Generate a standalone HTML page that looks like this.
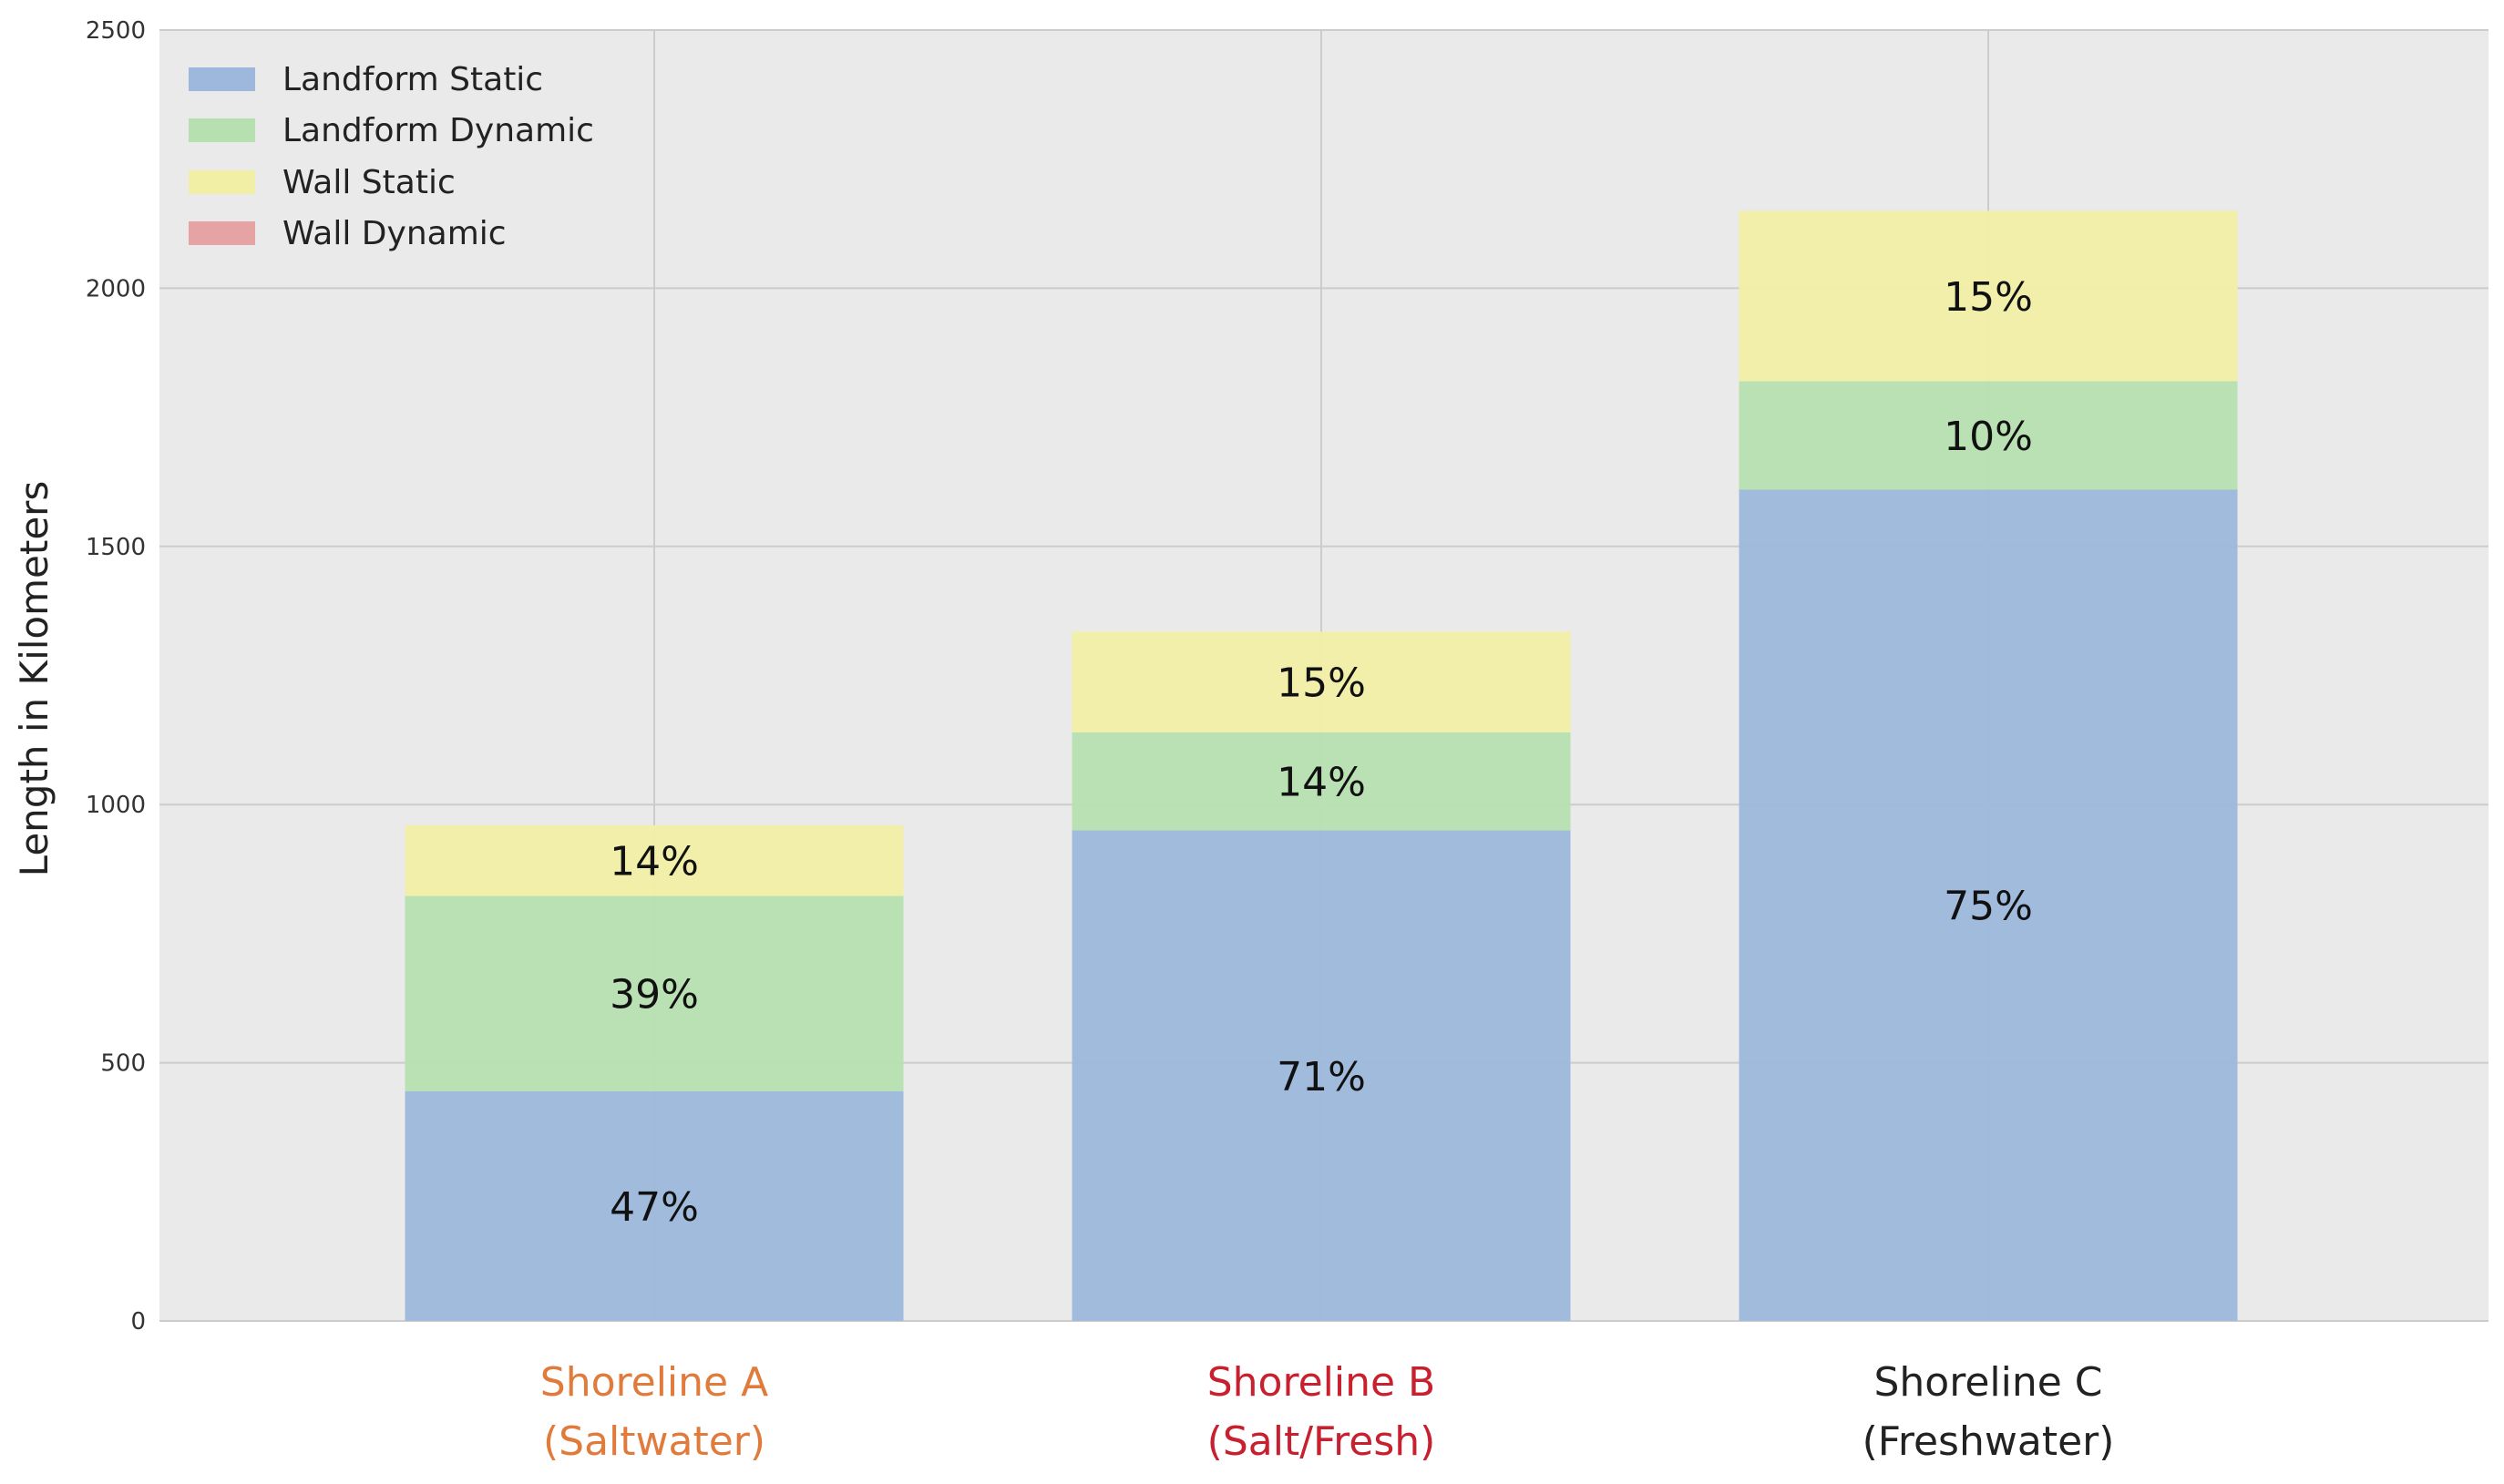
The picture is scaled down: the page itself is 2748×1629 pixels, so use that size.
<!DOCTYPE html>
<html><head><meta charset="utf-8"><style>
html,body{margin:0;padding:0;background:#fff;}
svg text{font-family:"DejaVu Sans","Liberation Sans",sans-serif;}
</style></head><body>
<svg id="chart" width="2748" height="1624" viewBox="0 0 2748 1624" xmlns="http://www.w3.org/2000/svg">
<rect x="175" y="33" width="2556" height="1417" fill="#eaeaea"/>
<g id="grid"></g>
<g id="bars"></g>
<g id="labels"></g>
<text x="0" y="0" transform="translate(52,745) rotate(-90)" text-anchor="middle" font-size="42" fill="#222">Length in Kilometers</text>
<g font-size="36" fill="#222">
<rect x="207" y="74" width="73" height="26" fill="#9db8dc"/>
<text x="310" y="99">Landform Static</text>
<rect x="207" y="130" width="73" height="26" fill="#b7e0b0"/>
<text x="310" y="155">Landform Dynamic</text>
<rect x="207" y="187" width="73" height="26" fill="#f1efa6"/>
<text x="310" y="212">Wall Static</text>
<rect x="207" y="243" width="73" height="26" fill="#e6a3a3"/>
<text x="310" y="268">Wall Dynamic</text>
</g>
</svg>
<script>
const categories = ["Shoreline A", "Shoreline B", "Shoreline C"];
const subLabels = ["(Saltwater)", "(Salt/Fresh)", "(Freshwater)"];
const landformStatic = [445, 950, 1610];
const landformDynamic = [378, 190, 210];
const wallStatic = [137, 195, 330];
const pctStatic = ["47%", "71%", "75%"];
const pctDynamic = ["39%", "14%", "10%"];
const pctWall = ["14%", "15%", "15%"];
const yTicks = [0, 500, 1000, 1500, 2000, 2500];

const NS = "http://www.w3.org/2000/svg";
const x0 = 175, x1 = 2731, yBase = 1450, yTop = 33, yMax = 2500;
const barW = 547, step = 732, firstC = 718;
const catColors = ["#e07b3c", "#c8202f", "#222"];
function y(v){ return yBase - v / yMax * (yBase - yTop); }
function xc(i){ return firstC + i * step; }
function mk(tag, attrs, parent){ const e = document.createElementNS(NS, tag); for (const k in attrs) e.setAttribute(k, attrs[k]); parent.appendChild(e); return e; }
const grid = document.getElementById('grid'), bars = document.getElementById('bars'), labels = document.getElementById('labels');

yTicks.forEach(t => {
  const l = mk('line', {x1: x0, x2: x1, y1: y(t), y2: y(t), stroke: '#cccccc', 'stroke-width': 2}, grid);
  
  
  const tx = mk('text', {x: 160, y: y(t) + 9, 'text-anchor': 'end', 'font-size': 26, fill: '#333'}, labels);
  tx.textContent = t;
  
  
});
categories.forEach((c, i) => {
  const l = mk('line', {x1: xc(i), x2: xc(i), y1: yTop, y2: yBase, stroke: '#cccccc', 'stroke-width': 2}, grid);
  
  
  const segs = [[landformStatic[i], '#9db8dc', pctStatic[i], 'landform-static'], [landformDynamic[i], '#b7e0b0', pctDynamic[i], 'landform-dynamic'], [wallStatic[i], '#f1efa6', pctWall[i], 'wall-static']];
  let acc = 0;
  segs.forEach(s => {
    const r = mk('rect', {x: xc(i) - barW / 2, y: y(acc + s[0]), width: barW, height: y(acc) - y(acc + s[0]), fill: s[1], 'fill-opacity': 0.95}, bars);
    
    
    const t = mk('text', {x: xc(i), y: y(acc + s[0] / 2) + 16, 'text-anchor': 'middle', 'font-size': 44, fill: '#111', 'font-family': 'Liberation Sans, sans-serif'}, labels);
    t.textContent = s[2];
    
    
    acc += s[0];
  });
  const g1 = mk('text', {x: xc(i), y: 1532, 'text-anchor': 'middle', 'font-size': 44, fill: catColors[i], 'font-family': 'Liberation Sans, sans-serif'}, labels);
  g1.textContent = c;
  
  
  const g2 = mk('text', {x: xc(i), y: 1597, 'text-anchor': 'middle', 'font-size': 44, fill: catColors[i], 'font-family': 'Liberation Sans, sans-serif'}, labels);
  g2.textContent = subLabels[i];
  
  
});
</script>
</body></html>
